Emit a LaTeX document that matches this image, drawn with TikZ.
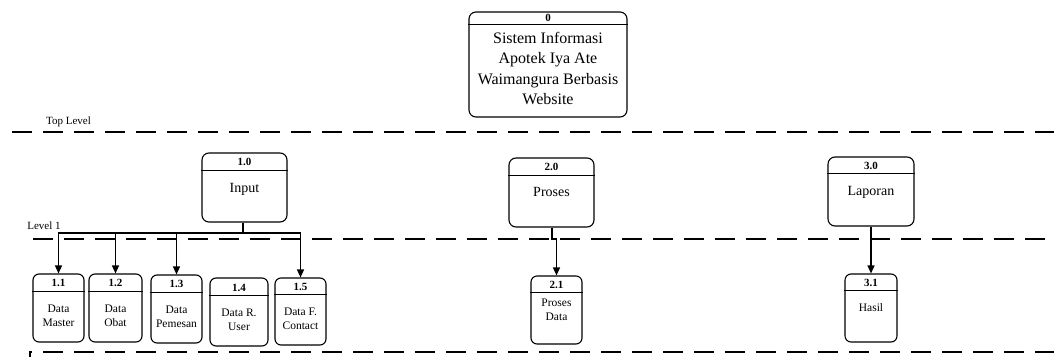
\documentclass[tikz,border=0pt]{standalone}
\usepackage{fontspec}
\setmainfont{Liberation Serif}
\usetikzlibrary{arrows.meta, positioning, calc}

\begin{document}
\begin{tikzpicture}[x=1pt, y=-1pt,
    proc/.style={draw, line width=1.1pt, rounded corners=7pt, inner sep=0pt},
    num/.style={font=\fontsize{11}{13}\selectfont\bfseries, inner sep=0pt},
    big/.style={font=\fontsize{14}{17}\selectfont, inner sep=0pt, align=center},
    small/.style={font=\fontsize{11.5}{14.5}\selectfont, inner sep=0pt, align=center},
    level/.style={line width=2.6pt, dash pattern=on 20pt off 11pt},
    conn/.style={line width=1.4pt},
    >={Triangle[length=8pt, width=7pt]}]
    \useasboundingbox (0,0) rectangle (1054,356);

    % Context process (Top Level)
    \node[proc, minimum width=158pt, minimum height=105pt] (p0) at (548,64.5) {};
    \draw[line width=1.1pt] ([yshift=-13pt]p0.north west) -- ([yshift=-13pt]p0.north east);
    \node[num] at (548,17.5) {0};
    \node[font=\fontsize{16}{20.3}\selectfont, inner sep=0pt, align=center] (t0) at (548,68.5)
        {Sistem Informasi\\Apotek Iya Ate\\Waimangura Berbasis\\Website};

    % Level lines
    \node[font=\fontsize{11}{13}\selectfont, inner sep=0pt] (top) at (68.5,122) {Top Level};
    \draw[level] (12,132) -- (1060,132);
    \node[font=\fontsize{11}{13}\selectfont, inner sep=0pt] (lv1) at (44,226) {Level 1};
    \draw[level] (33,239) -- (1060,239);
    \draw[level] (30,370) |- (1060,352);

    % Level 1 processes
    \node[proc, minimum width=85pt, minimum height=69pt] (p1) at (244.5,187.5) {};
    \draw[line width=1.1pt] ([yshift=-18pt]p1.north west) -- ([yshift=-18pt]p1.north east);
    \node[num] at (244.5,162) {1.0};
    \node[big] at (244.5,189) {Input};

    \node[proc, minimum width=85pt, minimum height=69pt] (p2) at (551.5,192.5) {};
    \draw[line width=1.1pt] ([yshift=-18pt]p2.north west) -- ([yshift=-18pt]p2.north east);
    \node[num] at (551.5,167) {2.0};
    \node[big] at (551.5,192) {Proses};

    \node[proc, minimum width=86pt, minimum height=69pt] (p3) at (871,191.5) {};
    \draw[line width=1.1pt] ([yshift=-17pt]p3.north west) -- ([yshift=-17pt]p3.north east);
    \node[num] at (871,166) {3.0};
    \node[big] at (871,192) {Laporan};

    % Level 2 processes
    \node[proc, rounded corners=6pt, minimum width=51pt, minimum height=68pt] (p11) at (58.5,308) {};
    \draw[line width=1.1pt] ([yshift=-18pt]p11.north west) -- ([yshift=-18pt]p11.north east);
    \node[num] at (58.5,283) {1.1};
    \node[small] at (58.5,316) {Data\\Master};

    \node[proc, rounded corners=6pt, minimum width=53pt, minimum height=68pt] (p12) at (115.5,308) {};
    \draw[line width=1.1pt] ([yshift=-18pt]p12.north west) -- ([yshift=-18pt]p12.north east);
    \node[num] at (115.5,283) {1.2};
    \node[small] at (115.5,316) {Data\\Obat};

    \node[proc, rounded corners=6pt, minimum width=51pt, minimum height=68pt] (p13) at (176.5,309) {};
    \draw[line width=1.1pt] ([yshift=-18pt]p13.north west) -- ([yshift=-18pt]p13.north east);
    \node[num] at (176.5,284) {1.3};
    \node[small] at (176.5,317) {Data\\Pemesan};

    \node[proc, rounded corners=6pt, minimum width=58pt, minimum height=68pt] (p14) at (239,312) {};
    \draw[line width=1.1pt] ([yshift=-18pt]p14.north west) -- ([yshift=-18pt]p14.north east);
    \node[num] at (239,288) {1.4};
    \node[small] at (239,320) {Data R.\\User};

    \node[proc, rounded corners=6pt, minimum width=51pt, minimum height=67pt] (p15) at (300.5,311.5) {};
    \draw[line width=1.1pt] ([yshift=-17pt]p15.north west) -- ([yshift=-17pt]p15.north east);
    \node[num] at (300.5,287) {1.5};
    \node[small] at (300.5,319) {Data F.\\Contact};

    \node[proc, rounded corners=6pt, minimum width=51pt, minimum height=68pt] (p21) at (556.5,310) {};
    \draw[line width=1.1pt] ([yshift=-17pt]p21.north west) -- ([yshift=-17pt]p21.north east);
    \node[num] at (556.5,285) {2.1};
    \node[small] at (556.5,310) {Proses\\Data};

    \node[proc, rounded corners=6pt, minimum width=52pt, minimum height=68pt] (p31) at (871,308) {};
    \draw[line width=1.1pt] ([yshift=-17pt]p31.north west) -- ([yshift=-17pt]p31.north east);
    \node[num] at (871,283) {3.1};
    \node[small] at (871,308) {Hasil};

    % Connectors
    \coordinate (bus) at (243,233);
    \draw[conn] (p1.south -| bus) -- (bus);
    \draw[conn, ->] (bus) -| (p11.north);
    \draw[conn, ->] (bus) -| (p12.north);
    \draw[conn, ->] (bus) -| (p13.north);
    \draw[conn, ->] (bus) -| (p15.north);

    \coordinate (j2) at (552,239);
    \draw[conn, ->] (p2.south -| j2) -- (j2) -| (p21.north);
    \draw[conn, ->] (p3.south) -- (p31.north);
\end{tikzpicture}
\end{document}
